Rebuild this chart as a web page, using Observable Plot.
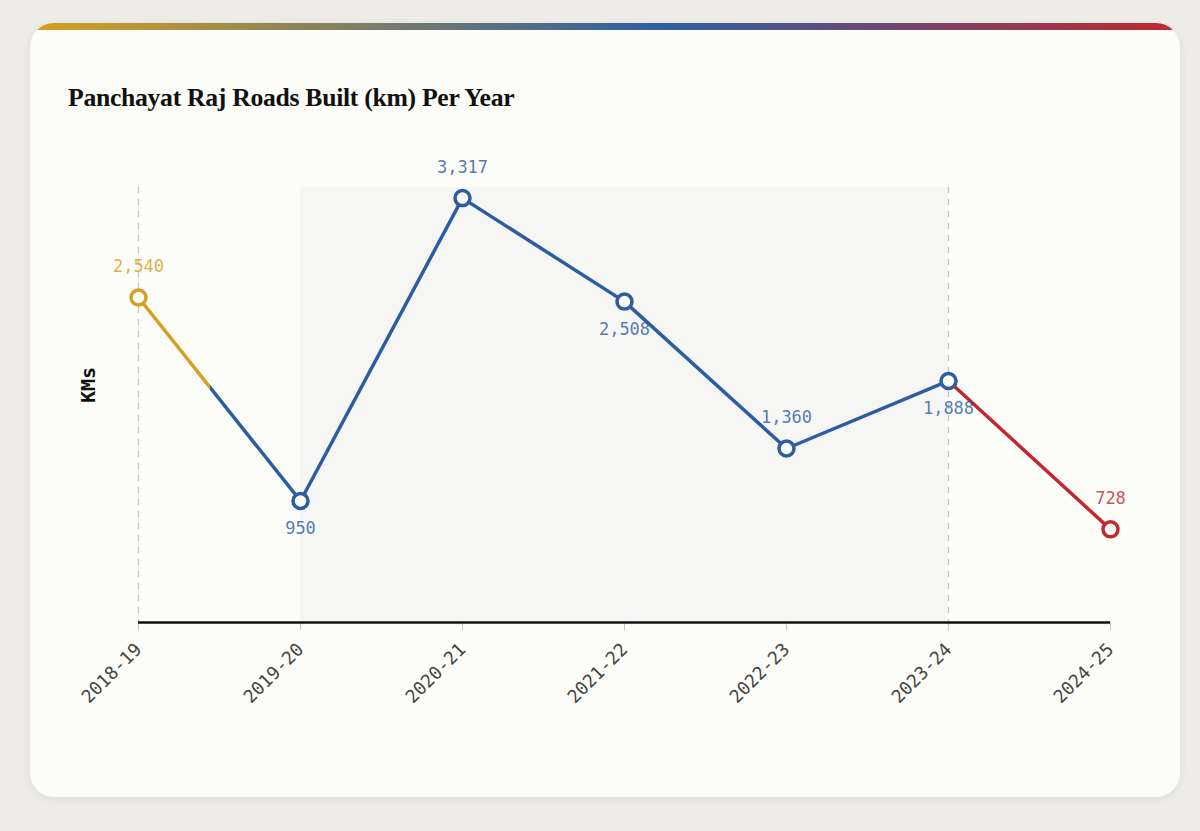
<!DOCTYPE html>
<html><head><meta charset="utf-8">
<script src="https://cdn.jsdelivr.net/npm/d3@7"></script>
<script src="https://cdn.jsdelivr.net/npm/@observablehq/plot@0.6"></script>
<style>
html,body{margin:0;padding:0;background:#eeece7;width:1200px;height:831px;overflow:hidden}
#card{position:absolute;left:30px;top:23px;width:1150px;height:774px;background:#fcfcf8;border-radius:24px;overflow:hidden;box-shadow:0 2px 10px rgba(0,0,0,0.07)}
#bar{position:absolute;left:0;top:0;width:100%;height:7px;background:linear-gradient(90deg,#d4a020 0%,#2e5fa3 55%,#c3282e 100%)}
#title{position:absolute;left:38px;top:60px;font-family:"Liberation Serif",serif;font-weight:bold;font-size:25.7px;letter-spacing:-0.3px;color:#111;white-space:nowrap}
#chart{position:absolute;left:0;top:107px}
</style></head>
<body>
<div id="card">
  <div id="bar"></div>
  <div id="title">Panchayat Raj Roads Built (km) Per Year</div>
  <div id="chart"></div>
</div>
<script>
const years = ["2018-19","2019-20","2020-21","2021-22","2022-23","2023-24","2024-25"];
const km = [2540, 950, 3317, 2508, 1360, 1888, 728];
const era = ["start","mid","mid","mid","mid","mid","end"];
const labelPos = ["above","below","above","below","above","below","above"];
const eraColors = {start:"#d4a020", mid:"#2d5da1", end:"#c3282e"};
const highlightSpan = [{from:"2019-20", to:"2023-24"}];
const markedYears = ["2018-19","2023-24"];
const yLabel = "KMs";
const yMax = 3400;

const rows = years.map((y,i)=>({year:y, km:km[i], era:era[i], pos:labelPos[i]}));
const fmt = d3.format(",");

const gradDefs = (index, scales, values, dims) => {
  const x = scales.x;
  const x0 = x(years[0]), x1 = x(years[1]);
  const goldEnd = x0 + 0.44*(x1 - x0);
  const redStart = x(years[5]);
  const defs = d3.create("svg:defs");
  const g = defs.append("linearGradient").attr("id","lineGrad")
    .attr("gradientUnits","userSpaceOnUse")
    .attr("x1", x0).attr("x2", x(years[6])).attr("y1",0).attr("y2",0);
  const span = x(years[6]) - x0;
  const stops = [[0,"start"],[(goldEnd-x0)/span,"start"],[(goldEnd-x0)/span,"mid"],[(redStart-x0)/span,"mid"],[(redStart-x0)/span,"end"],[1,"end"]];
  stops.forEach(([o,e])=>g.append("stop").attr("offset",o).attr("stop-color",eraColors[e]));
  return defs.node();
};

const chart = Plot.plot({
  width: 1150,
  height: 600,
  marginLeft: 108,
  marginRight: 70,
  marginTop: 57,
  marginBottom: 108,
  style: {fontFamily: "'DejaVu Sans Mono', monospace", fontSize: "16px", background: "transparent", overflow: "visible"},
  x: {domain: years, type: "point", padding: 0},
  y: {domain: [0, yMax], axis: null},
  marks: [
    gradDefs,
    Plot.rect(highlightSpan, {x1: "from", x2: "to", fill: "#f6f6f5"}),
    Plot.ruleX(markedYears, {x: d=>d, stroke: "#c4c4c4", strokeWidth: 1.3, strokeDasharray: "6,6", insetBottom: -8}),
    Plot.axisX({tickSize: 8, tickPadding: 16, tickRotate: -45, stroke: "#c4c4c4", fill: "#444", label: null, fontSize: 18}),
    Plot.ruleY([0], {stroke: "#111", strokeWidth: 2.5}),
    Plot.line(rows, {x: "year", y: "km", stroke: "url(#lineGrad)", strokeWidth: 3.5}),
    Plot.dot(rows, {x: "year", y: "km", r: 7.5, fill: "#fcfcf8", stroke: d=>eraColors[d.era], strokeWidth: 3.5}),
    Plot.text(rows.filter(d=>d.pos==="above"), {x: "year", y: "km", text: d=>fmt(d.km), fill: d=>eraColors[d.era], fillOpacity: 0.82, dy: -31, fontSize: 17}),
    Plot.text(rows.filter(d=>d.pos==="below"), {x: "year", y: "km", text: d=>fmt(d.km), fill: d=>eraColors[d.era], fillOpacity: 0.82, dy: 28, fontSize: 17}),
    Plot.text([yLabel], {text: d=>d, frameAnchor: "left", rotate: -90, dx: -50, dy: -2, fontWeight: "bold", fontSize: 20, fill: "#111"})
  ]
});
document.getElementById("chart").appendChild(chart);
</script>
</body></html>
